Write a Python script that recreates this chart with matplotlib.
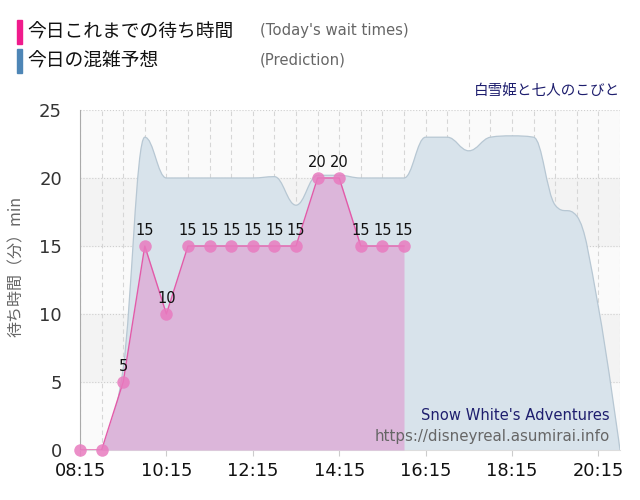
import matplotlib
matplotlib.use("Agg")
import matplotlib.pyplot as plt
from matplotlib.path import Path
from matplotlib.patches import PathPatch, Rectangle

# --- data ---
wait_times = ["08:15", "08:45", "09:15", "09:45", "10:15", "10:45", "11:15", "11:45",
              "12:15", "12:45", "13:15", "13:45", "14:15", "14:45", "15:15", "15:45"]
wait_vals = [0, 0, 5, 15, 10, 15, 15, 15, 15, 15, 15, 20, 20, 15, 15, 15]

pred_times = ["08:45", "09:15", "09:45", "10:15", "10:45", "11:15", "11:45", "12:15",
              "12:45", "13:15", "13:45", "14:15", "14:45", "15:15", "15:45", "16:15",
              "16:45", "17:15", "17:45", "18:15", "18:45", "19:15", "19:45", "20:15", "20:45"]
pred_vals = [0, 6, 23, 20, 20, 20, 20, 20, 20.1, 18, 20.2, 20.2, 20, 20, 20, 23,
             23, 22, 23, 23.1, 23, 18, 17.2, 10.5, 0]

tick_labels = ["08:15", "10:15", "12:15", "14:15", "16:15", "18:15", "20:15"]
y_ticks = [0, 5, 10, 15, 20, 25]

JP = ["Noto Sans CJK JP", "DejaVu Sans"]


def to_h(t):
    h, m = t.split(":")
    return int(h) + int(m) / 60


def spline(xs, ys, s=1.5):
    # highcharts-like spline control points
    n = len(xs)
    lc = [(xs[i], ys[i]) for i in range(n)]
    rc = [(xs[i], ys[i]) for i in range(n)]
    d = s + 1
    for i in range(1, n - 1):
        x, y = xs[i], ys[i]
        lx = (s * x + xs[i - 1]) / d
        ly = (s * y + ys[i - 1]) / d
        rx = (s * x + xs[i + 1]) / d
        ry = (s * y + ys[i + 1]) / d
        if rx != lx:
            corr = (ry - ly) * (rx - x) / (rx - lx) + y - ry
            ly += corr
            ry += corr
        if ly > max(ys[i - 1], y):
            ly = max(ys[i - 1], y); ry = 2 * y - ly
        elif ly < min(ys[i - 1], y):
            ly = min(ys[i - 1], y); ry = 2 * y - ly
        if ry > max(y, ys[i + 1]):
            ry = max(y, ys[i + 1]); ly = 2 * y - ry
        elif ry < min(y, ys[i + 1]):
            ry = min(y, ys[i + 1]); ly = 2 * y - ry
        lc[i] = (lx, ly)
        rc[i] = (rx, ry)
    verts = [(xs[0], ys[0])]
    codes = [Path.MOVETO]
    for i in range(1, n):
        verts += [rc[i - 1], lc[i], (xs[i], ys[i])]
        codes += [Path.CURVE4] * 3
    return verts, codes


wx = [to_h(t) for t in wait_times]
px = [to_h(t) for t in pred_times]

fig = plt.figure(figsize=(6.4, 5), dpi=100)
ax = fig.add_axes([0.125, 0.1, 0.84375, 0.68])
ax.set_facecolor("#fafafa")
ax.axhspan(15, 20, color="#f3f3f3", zorder=0)
ax.axhspan(5, 10, color="#f3f3f3", zorder=0)

# prediction (spline area)
v, c = spline(px, pred_vals)
fill_v = v + [(px[-1], 0), (px[0], 0), (px[0], pred_vals[0])]
fill_c = c + [Path.LINETO, Path.LINETO, Path.CLOSEPOLY]
ax.add_patch(PathPatch(Path(fill_v, fill_c), facecolor="#d8e3eb", edgecolor="none", zorder=2))
ax.add_patch(PathPatch(Path(v, c), facecolor="none", edgecolor="#b7c7d3", lw=0.9, zorder=2.1))

# today's wait times
ax.fill_between(wx, wait_vals, 0, color="#dcb6da", lw=0, zorder=3)
ax.plot(wx, wait_vals, color="#e35aa9", lw=1, zorder=4)
ax.plot(wx, wait_vals, "o", ms=9, color="#e87bbf", mec="none", alpha=0.85, zorder=5, clip_on=False)
for x, y in zip(wx, wait_vals):
    if y > 0:
        ax.annotate(str(y), (x, y), xytext=(0, 6), textcoords="offset points",
                    ha="center", va="bottom", fontsize=10.5, color="#111", zorder=6)

ax.set_xlim(to_h("08:15"), to_h("20:45"))
ax.set_ylim(0, 25)
ax.set_xticks([to_h(t) for t in tick_labels])
ax.set_xticklabels(tick_labels)
ax.set_xticks([to_h(t) for t in wait_times + pred_times[16:]], minor=True)
ax.set_yticks(y_ticks)
ax.tick_params(axis="x", which="major", labelsize=12.8, length=4, pad=5, color="#ccc", labelcolor="#111")
ax.tick_params(axis="x", which="minor", length=0)
ax.tick_params(axis="y", labelsize=13, length=0, pad=13, labelcolor="#333")

ax.grid(axis="x", which="both", color="#d6d6d6", linestyle=(0, (4, 3)), lw=0.8, zorder=1)
ax.grid(axis="y", color="#cfcfcf", linestyle=":", lw=0.8, zorder=1)
ax.set_axisbelow(True)
for s in ["top", "right"]:
    ax.spines[s].set_visible(False)
ax.spines["left"].set_color("#aaaaaa")
ax.spines["bottom"].set_color("#dddddd")

ax.set_ylabel("待ち時間（分）min", family=JP, fontsize=11.5, color="#666")
ax.yaxis.set_label_coords(-0.102, 0.54)

# header / legend
fig.add_artist(Rectangle((17 / 640, 1 - 44 / 500), 5 / 640, 24 / 500, color="#f01b8c", transform=fig.transFigure))
fig.add_artist(Rectangle((17 / 640, 1 - 73 / 500), 5 / 640, 24 / 500, color="#4e86b6", transform=fig.transFigure))
fig.text(27 / 640, 1 - 32 / 500, "今日これまでの待ち時間", family=JP, fontsize=13.5, va="center", color="#111")
fig.text(27 / 640, 1 - 61 / 500, "今日の混雑予想", family=JP, fontsize=13.5, va="center", color="#111")
fig.text(260 / 640, 1 - 31 / 500, "(Today's wait times)", fontsize=10.7, va="center", color="#666")
fig.text(260 / 640, 1 - 60 / 500, "(Prediction)", fontsize=10.7, va="center", color="#666")
fig.text(620 / 640, 1 - 91 / 500, "白雪姫と七人のこびと", family=JP, fontsize=10.5, ha="right", va="center", color="#1e1e6e")

# credits
fig.text(610 / 640, 1 - 415 / 500, "Snow White's Adventures", fontsize=10.6, ha="right", va="center", color="#1e1e6e", zorder=10)
fig.text(610 / 640, 1 - 436 / 500, "https://disneyreal.asumirai.info", fontsize=10.8, ha="right", va="center", color="#666", zorder=10)

fig.savefig("out.png", dpi=100)
